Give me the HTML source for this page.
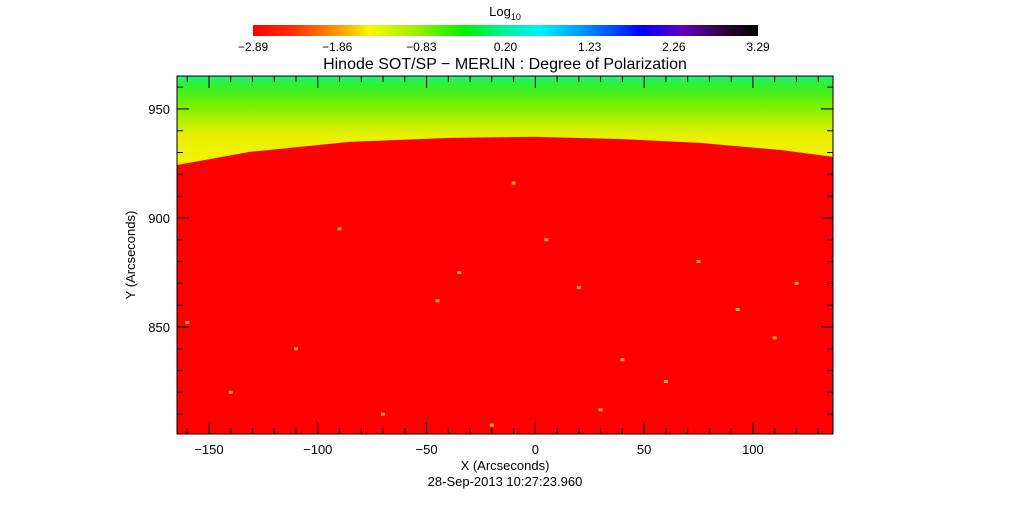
<!DOCTYPE html>
<html><head><meta charset="utf-8"><style>
html,body{margin:0;padding:0;background:#fff;}
svg{display:block;font-family:"Liberation Sans",sans-serif;}
</style></head><body>
<svg id="c" width="1009" height="512" viewBox="0 0 1009 512">
<defs>
<linearGradient id="cbg" x1="0" x2="1" y1="0" y2="0">
<stop offset="0" stop-color="#ff0000"/><stop offset="0.08" stop-color="#ff3000"/>
<stop offset="0.17" stop-color="#ff9a00"/><stop offset="0.23" stop-color="#f8f800"/>
<stop offset="0.32" stop-color="#a0f000"/><stop offset="0.42" stop-color="#00f000"/>
<stop offset="0.5" stop-color="#00f0a0"/><stop offset="0.57" stop-color="#00f0ff"/>
<stop offset="0.67" stop-color="#0080ff"/><stop offset="0.77" stop-color="#0000ff"/>
<stop offset="0.85" stop-color="#6000c0"/><stop offset="0.93" stop-color="#300040"/>
<stop offset="1" stop-color="#000000"/>
</linearGradient>
<linearGradient id="sky" x1="0" x2="0" y1="76" y2="168" gradientUnits="userSpaceOnUse">
<stop offset="0" stop-color="#20f080"/><stop offset="0.1" stop-color="#30f030"/>
<stop offset="0.3" stop-color="#70f000"/><stop offset="0.5" stop-color="#b8f000"/>
<stop offset="0.65" stop-color="#e8f000"/><stop offset="1" stop-color="#f8f400"/>
</linearGradient>
<clipPath id="pc"><rect x="177" y="76" width="656" height="358"/></clipPath>
</defs>
<g id="plot" clip-path="url(#pc)"></g>
<g id="axes"></g>
<rect x="253" y="25" width="505" height="11" fill="url(#cbg)"/>
<text x="505" y="16" font-size="13" text-anchor="middle">Log<tspan font-size="9" dy="4">10</tspan></text>
<g id="cbticks" font-size="12" text-anchor="middle"></g>
<text x="505" y="69" font-size="16" text-anchor="middle">Hinode SOT/SP − MERLIN : Degree of Polarization</text>
<text x="505" y="470" font-size="13" text-anchor="middle">X (Arcseconds)</text>
<text x="505" y="486" font-size="13" text-anchor="middle">28-Sep-2013 10:27:23.960</text>
<text transform="translate(135,255) rotate(-90)" font-size="13" text-anchor="middle">Y (Arcseconds)</text>
</svg>
<script>
const limbX=[-164.7,-131.2,-85.3,-39.2,0,38.9,75.6,112.4,136.8];
const limbY=[924.3,930.3,934.9,936.7,937.2,936.2,934.4,931.2,928.0];
const xTicks=[-150,-100,-50,0,50,100];
const yTicks=[850,900,950];
const cbLabels=["-2.89","-1.86","-0.83","0.20","1.23","2.26","3.29"];
const brightX=[-35,93,-160,-10,20,-110,60,-70,110,-140,5,40,-45,75,-20,120,-90,30];
const brightY=[875,858,852,916,868,840,825,810,845,820,890,835,862,880,805,870,895,812];

const X0=-164.7,X1=136.8,Y0=800.9,Y1=965.1,L=177,R=833,T=76,B=434;
const sx=v=>L+(v-X0)/(X1-X0)*(R-L);
const sy=v=>B-(v-Y0)/(Y1-Y0)*(B-T);
const NS="http://www.w3.org/2000/svg";
function mk(t,a,p){const e=document.createElementNS(NS,t);for(const k in a)e.setAttribute(k,a[k]);p.appendChild(e);return e;}
const plot=document.getElementById('plot'),axes=document.getElementById('axes');
const sky=mk('rect',{x:L,y:T,width:R-L,height:B-T,fill:'url(#sky)'},plot);


let d='M'+sx(limbX[0])+','+sy(limbY[0]);
for(let i=1;i<limbX.length;i++)d+=' L'+sx(limbX[i])+','+sy(limbY[i]);
d+=' L'+R+','+sy(limbY[limbY.length-1])+' L'+R+','+B+' L'+L+','+B+' Z';
const disk=mk('path',{d:d,fill:'#ff0000'},plot);


for(let i=0;i<brightX.length;i++){
 const b=mk('rect',{x:sx(brightX[i])-2,y:sy(brightY[i])-1.5,width:4,height:3,fill:'#ffb000'},plot);
 
 
}
const box=mk('rect',{x:L,y:T,width:R-L,height:B-T,fill:'none',stroke:'#000','stroke-width':1},axes);


for(let v=-160;v<=130;v+=10){
 const x=sx(v),len=(v%50===0)?12:6;
 mk('line',{x1:x,x2:x,y1:B,y2:B-len,stroke:'#000'},axes);
 mk('line',{x1:x,x2:x,y1:T,y2:T+len,stroke:'#000'},axes);
}
for(let v=810;v<=960;v+=10){
 const y=sy(v),len=(v%50===0)?12:6;
 mk('line',{x1:L,x2:L+len,y1:y,y2:y,stroke:'#000'},axes);
 mk('line',{x1:R,x2:R-len,y1:y,y2:y,stroke:'#000'},axes);
}
xTicks.forEach(v=>{const t=mk('text',{x:sx(v),y:454,'font-size':13,'text-anchor':'middle'},axes);t.textContent=(v<0?'−':'')+Math.abs(v);
 
 });
yTicks.forEach(v=>{const t=mk('text',{x:170,y:sy(v)+5,'font-size':13,'text-anchor':'end'},axes);t.textContent=v;
 
 });
const cb=document.getElementById('cbticks');
cbLabels.forEach((s,i)=>{const t=mk('text',{x:253+i*(505/6),y:51},cb);t.textContent=s.replace('-','−');
 
 });
</script>
</body></html>
